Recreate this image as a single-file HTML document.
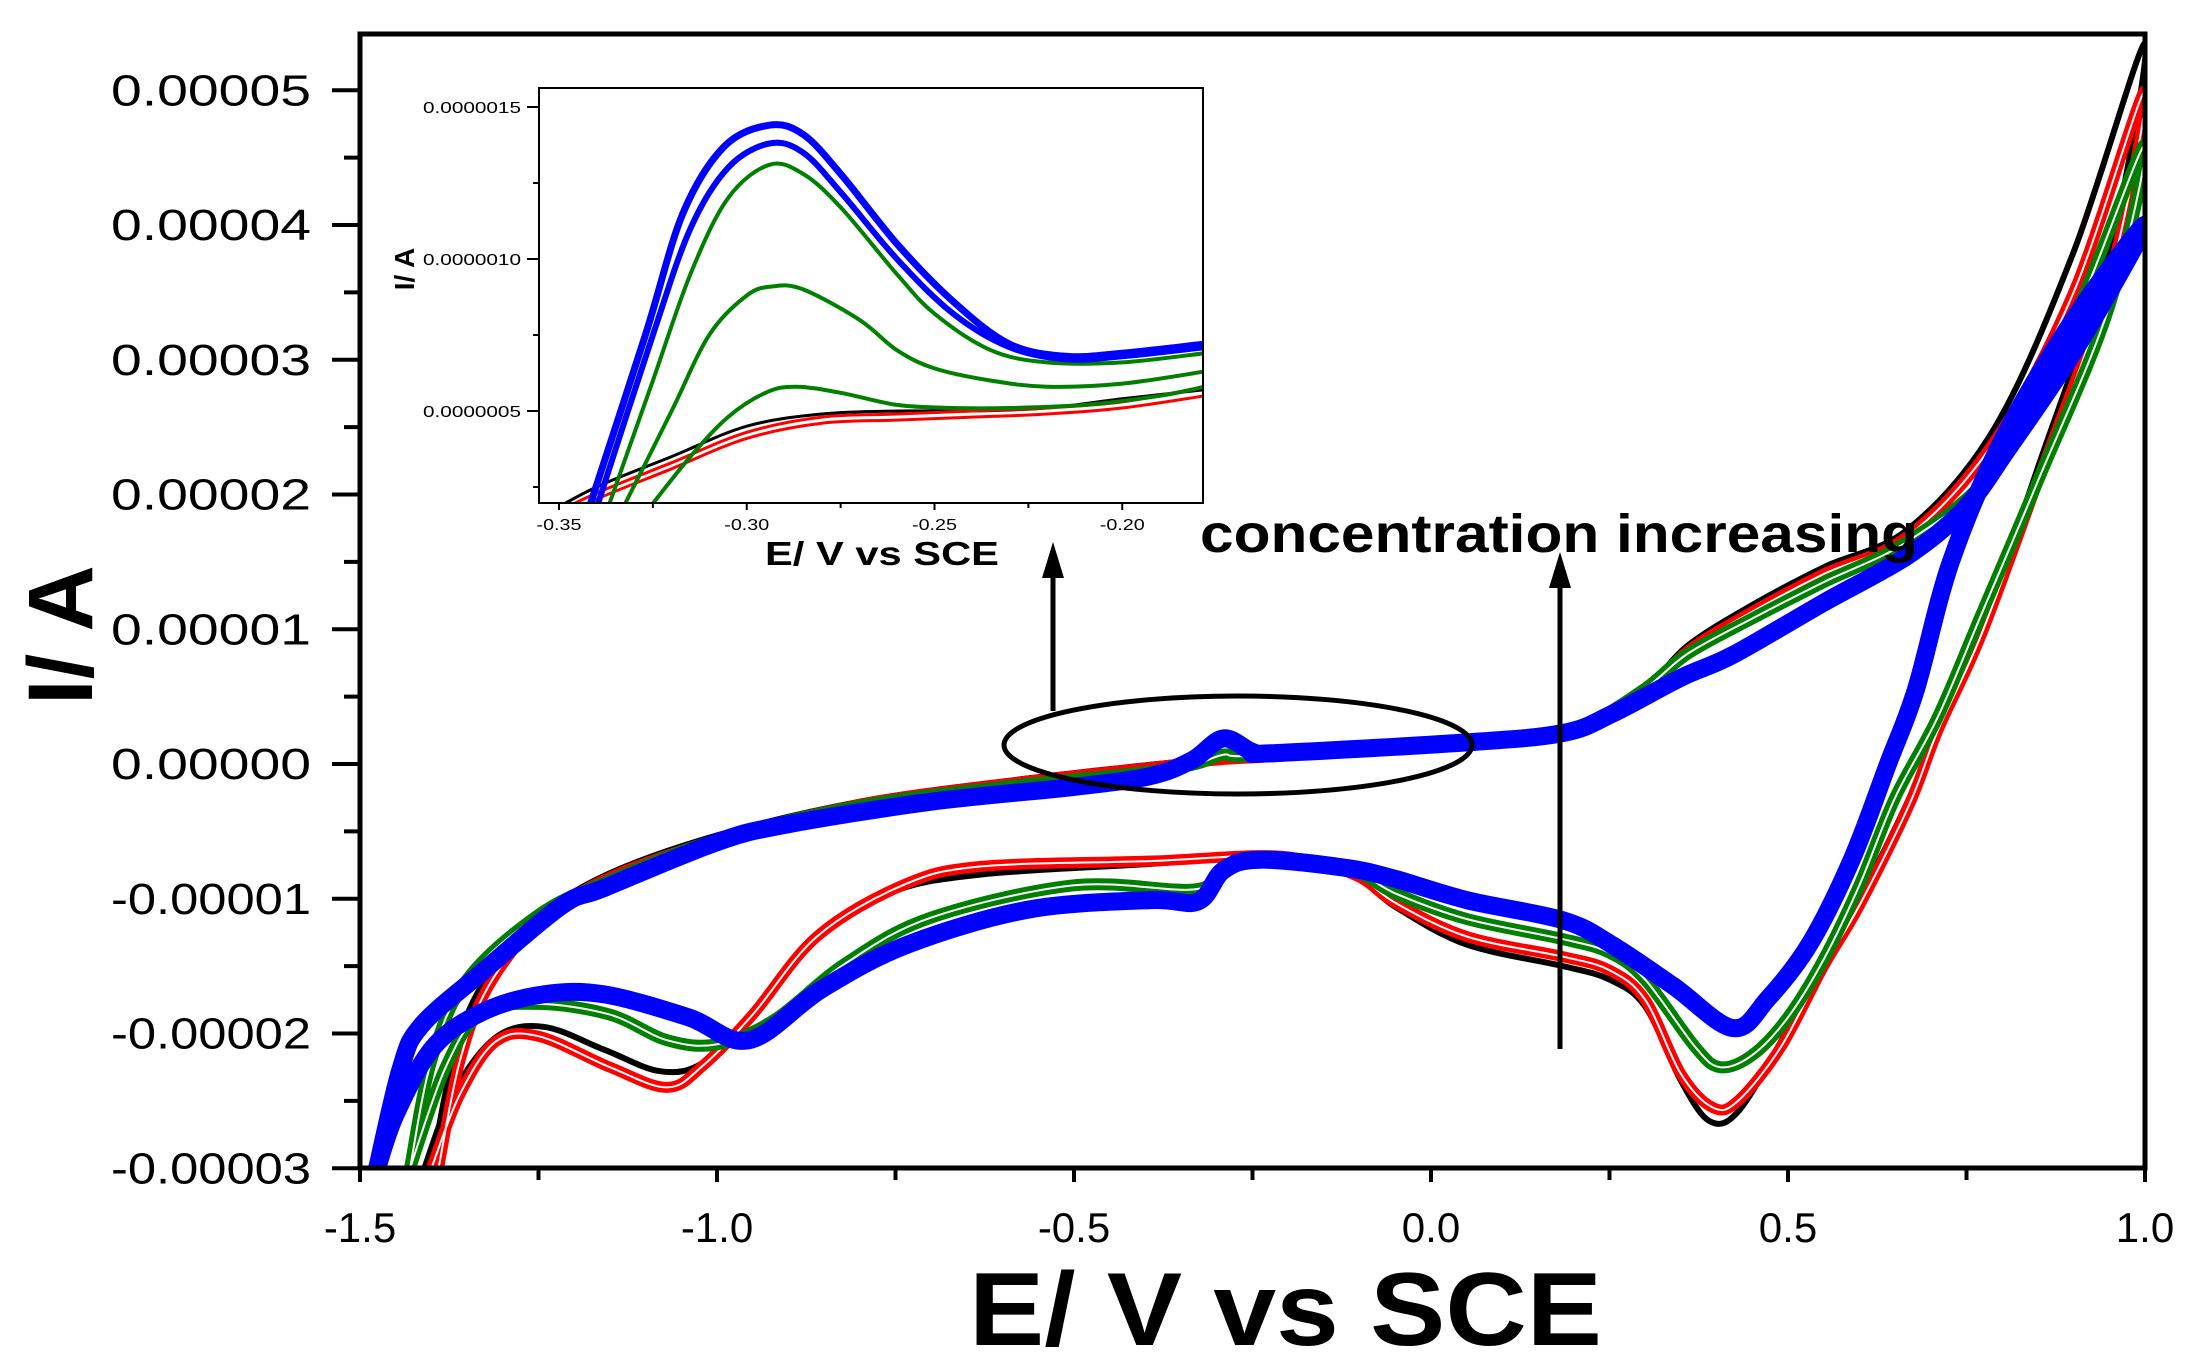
<!DOCTYPE html>
<html><head><meta charset="utf-8"><style>
html,body{margin:0;padding:0;background:#fff;}
svg{display:block;font-family:"Liberation Sans",Arial,sans-serif;}
</style></head><body>
<svg id="chart" width="2197" height="1364" viewBox="0 0 2197 1364" xmlns="http://www.w3.org/2000/svg">
<defs>
<clipPath id="mainClip"><rect x="360" y="34" width="1785" height="1134"/></clipPath>
<clipPath id="insetClip"><rect x="539" y="88" width="664" height="415"/></clipPath>
</defs>
<g id="mainSeries" clip-path="url(#mainClip)"></g>
<rect x="360" y="34" width="1785" height="1134" fill="none" stroke="#000" stroke-width="5"/>
<g id="mainAxes"></g>
<text x="969" y="1345" font-size="104" font-weight="bold" textLength="633" lengthAdjust="spacingAndGlyphs">E/ V vs SCE</text>
<text transform="translate(92,635) rotate(-90)" text-anchor="middle" font-size="92" font-weight="bold">I/ A</text>
<ellipse cx="1238" cy="745" rx="234" ry="49" fill="none" stroke="#000" stroke-width="5"/>
<g>
<line x1="1053" y1="711" x2="1053" y2="575" stroke="#000" stroke-width="5"/>
<polygon points="1053,542 1042,578 1064,578" fill="#000"/>
</g>
<g>
<line x1="1560" y1="1049" x2="1560" y2="585" stroke="#000" stroke-width="5"/>
<polygon points="1560,552 1549,588 1571,588" fill="#000"/>
</g>
<text x="1200" y="552" font-size="54" font-weight="bold" textLength="718" lengthAdjust="spacingAndGlyphs">concentration increasing</text>
<rect x="539" y="88" width="664" height="415" fill="#fff" stroke="none"/>
<g id="insetSeries" clip-path="url(#insetClip)"></g>
<rect x="539" y="88" width="664" height="415" fill="none" stroke="#000" stroke-width="2"/>
<g id="insetAxes"></g>
<text x="765" y="565" font-size="33" font-weight="bold" textLength="234" lengthAdjust="spacingAndGlyphs">E/ V vs SCE</text>
<text transform="translate(414,269) rotate(-90)" text-anchor="middle" font-size="28" font-weight="bold">I/ A</text>
</svg>
<script>
// ---- main chart data (E in V, I in microamps) ----
const xTicks = [-1.5, -1.0, -0.5, 0.0, 0.5, 1.0];
const xTickLabels = ["-1.5", "-1.0", "-0.5", "0.0", "0.5", "1.0"];
const yTicks = [50, 40, 30, 20, 10, 0, -10, -20, -30];
const yTickLabels = ["0.00005", "0.00004", "0.00003", "0.00002", "0.00001", "0.00000", "-0.00001", "-0.00002", "-0.00003"];

const blackE = [-1.40,-1.37,-1.33,-1.25,-1.158,-1.0,-0.8,-0.6,-0.4,-0.3,-0.2,0.0,0.15,0.22,0.3,0.36,0.45,0.55,0.67,0.79,0.9,1.0,0.95,0.85,0.77,0.71,0.67,0.6,0.55,0.49,0.43,0.39,0.35,0.3,0.25,0.185,0.05,-0.05,-0.1,-0.17,-0.24,-0.39,-0.63,-0.76,-0.87,-0.955,-1.02,-1.08,-1.158,-1.243,-1.31,-1.37,-1.41];
const blackI = [-30,-22,-16.5,-11.5,-8.3,-5.3,-2.8,-1.3,-0.1,0.4,0.6,1.3,1.9,2.6,5.5,8.8,11.8,14.6,17.5,25,38,53.5,38,22,10,3,-2.5,-10,-14.5,-20.6,-25.8,-26.5,-23.5,-18,-16,-15,-13.4,-10.6,-8.5,-7.2,-6.8,-7.4,-8.2,-9.6,-13.4,-18.8,-22.2,-22.8,-21.2,-19.5,-20.3,-24.5,-30];

const redE = [-1.39,-1.36,-1.32,-1.25,-1.158,-1.0,-0.8,-0.6,-0.4,-0.3,-0.2,0.0,0.15,0.22,0.3,0.36,0.45,0.55,0.67,0.79,0.9,1.0,0.95,0.85,0.77,0.71,0.67,0.6,0.55,0.49,0.43,0.395,0.35,0.3,0.25,0.185,0.05,-0.05,-0.1,-0.17,-0.24,-0.39,-0.63,-0.74,-0.86,-0.95,-1.02,-1.07,-1.15,-1.25,-1.31,-1.36,-1.40];
const redI = [-30,-22,-16.5,-11.8,-8.6,-5.6,-3.0,-1.5,-0.3,0.3,0.6,1.3,1.9,2.6,5.2,8.4,11.3,14.1,17,24,35,50,36,21,9.5,2.5,-3,-10.5,-15,-21,-25,-25.5,-23,-17.5,-15.3,-14.3,-12.8,-10.3,-8.4,-7.2,-6.8,-7.2,-7.6,-9.0,-12.8,-18.6,-22.4,-24,-22.5,-20.2,-20.6,-24.5,-30];

const greenE = [-1.43,-1.40,-1.35,-1.25,-1.158,-1.0,-0.8,-0.6,-0.4,-0.33,-0.29,-0.25,0.0,0.15,0.22,0.3,0.36,0.45,0.55,0.67,0.79,0.9,1.0,0.95,0.85,0.77,0.71,0.65,0.6,0.55,0.5,0.45,0.405,0.37,0.3,0.25,0.185,0.05,-0.05,-0.1,-0.17,-0.24,-0.29,-0.33,-0.5,-0.7,-0.82,-0.92,-1.0,-1.07,-1.15,-1.25,-1.33,-1.38,-1.43];
const greenI = [-30,-22,-16,-11.2,-8.8,-5.6,-3.1,-1.7,-0.6,0.0,0.7,0.6,1.4,2.0,3.0,5.6,8.2,10.8,13.5,16.6,22,33,46,34,21,11,3.5,-2.5,-9,-14.5,-18.8,-21.6,-22.5,-21,-16,-14,-13,-11.5,-9.6,-8.1,-7.2,-6.9,-7.6,-9.3,-9.0,-11.4,-14.8,-19,-20.8,-20.5,-18.6,-17.8,-18.5,-22.5,-30];

const blueE = [-1.476,-1.443,-1.414,-1.328,-1.217,-1.158,-1.0,-0.903,-0.7,-0.5,-0.393,-0.334,-0.291,-0.25,-0.222,0.05,0.185,0.253,0.35,0.423,0.551,0.669,0.748,0.807,0.905,1.0,0.9,0.8,0.728,0.679,0.64,0.59,0.531,0.472,0.423,0.34,0.253,0.185,0.05,-0.052,-0.12,-0.24,-0.291,-0.326,-0.393,-0.563,-0.733,-0.853,-0.955,-1.04,-1.158,-1.243,-1.328,-1.397,-1.45,-1.476];
const blueI = [-30,-22.6,-19.4,-15.4,-10.5,-9.2,-5.8,-4.5,-2.8,-1.7,-0.9,0.3,1.9,0.9,0.8,1.6,2.3,3.7,6.4,8.1,12,15.5,19,23.3,31,40,33,24,15,5.5,0,-7,-13.3,-17.4,-19.6,-16.5,-13.4,-11.6,-10.1,-8.5,-7.7,-7.1,-7.9,-10.2,-10.1,-10.8,-13.4,-16.7,-20.5,-18.8,-17.1,-17.1,-18.4,-21,-26,-30];

// ---- inset data (E in V, I in microamps) ----
const insetXTicks = [-0.35, -0.30, -0.25, -0.20];
const insetXTickLabels = ["-0.35", "-0.30", "-0.25", "-0.20"];
const insetYTicks = [1.5, 1.0, 0.5];
const insetYTickLabels = ["0.0000015", "0.0000010", "0.0000005"];
const inBlackE = [-0.355,-0.34,-0.32,-0.30,-0.28,-0.26,-0.24,-0.22,-0.20,-0.178];
const inBlackI = [0.15,0.25,0.35,0.45,0.49,0.50,0.50,0.51,0.54,0.57];
const inRed1I = [0.14,0.23,0.33,0.43,0.48,0.49,0.50,0.51,0.53,0.58];
const inRed2I = [0.12,0.21,0.31,0.41,0.46,0.47,0.48,0.49,0.51,0.55];
const inGreen3E = [-0.326,-0.315,-0.305,-0.295,-0.287,-0.275,-0.26,-0.245,-0.23,-0.21,-0.19,-0.178];
const inGreen3I = [0.18,0.35,0.48,0.56,0.58,0.56,0.52,0.51,0.51,0.52,0.55,0.58];
const inGreen2E = [-0.333,-0.32,-0.31,-0.30,-0.293,-0.285,-0.27,-0.26,-0.25,-0.235,-0.22,-0.20,-0.178];
const inGreen2I = [0.18,0.5,0.75,0.88,0.91,0.90,0.80,0.70,0.64,0.60,0.58,0.59,0.63];
const inGreen1E = [-0.337,-0.325,-0.315,-0.305,-0.294,-0.285,-0.275,-0.26,-0.25,-0.235,-0.22,-0.20,-0.178];
const inGreen1I = [0.18,0.6,0.95,1.2,1.31,1.28,1.17,0.95,0.82,0.70,0.66,0.66,0.69];
const inBlue2E = [-0.34,-0.325,-0.315,-0.305,-0.294,-0.285,-0.275,-0.26,-0.245,-0.23,-0.215,-0.20,-0.178];
const inBlue2I = [0.18,0.75,1.1,1.3,1.38,1.35,1.22,1.0,0.82,0.71,0.67,0.68,0.71];
const inBlue1E = [-0.342,-0.327,-0.317,-0.306,-0.294,-0.285,-0.275,-0.26,-0.245,-0.23,-0.215,-0.20,-0.178];
const inBlue1I = [0.18,0.75,1.15,1.37,1.44,1.41,1.28,1.05,0.86,0.72,0.68,0.69,0.72];

const NS = "http://www.w3.org/2000/svg";
function xMain(e){ return 360 + (e + 1.5) * 714; }
function yMain(i){ return 764 - i * 13.475; }
function xIn(e){ return 559 + (e + 0.35) * 3755; }
function yIn(i){ return 411 - (i - 0.5) * 304; }

function smoothPath(xs, ys){
  let d = "M" + xs[0].toFixed(1) + "," + ys[0].toFixed(1);
  for (let k = 0; k < xs.length - 1; k++){
    const p0x = xs[Math.max(k-1,0)], p0y = ys[Math.max(k-1,0)];
    const p1x = xs[k], p1y = ys[k], p2x = xs[k+1], p2y = ys[k+1];
    const p3x = xs[Math.min(k+2,xs.length-1)], p3y = ys[Math.min(k+2,xs.length-1)];
    const c1x = p1x + (p2x - p0x)/6, c1y = p1y + (p2y - p0y)/6;
    const c2x = p2x - (p3x - p1x)/6, c2y = p2y - (p3y - p1y)/6;
    d += " C" + c1x.toFixed(1)+","+c1y.toFixed(1)+" "+c2x.toFixed(1)+","+c2y.toFixed(1)+" "+p2x.toFixed(1)+","+p2y.toFixed(1);
  }
  return d;
}
function addCurve(parent, E, I, xf, yf, color, w, name){
  const p = document.createElementNS(NS, "path");
  p.setAttribute("d", smoothPath(E.map(xf), I.map(yf)));
  p.setAttribute("fill", "none");
  p.setAttribute("stroke", color);
  p.setAttribute("stroke-width", w);
  p.setAttribute("stroke-linejoin", "round");
  
  
  parent.appendChild(p);
}
function addLine(parent, x1, y1, x2, y2, w, name){
  const l = document.createElementNS(NS, "line");
  l.setAttribute("x1", x1); l.setAttribute("y1", y1);
  l.setAttribute("x2", x2); l.setAttribute("y2", y2);
  l.setAttribute("stroke", "#000"); l.setAttribute("stroke-width", w);
  
  
  parent.appendChild(l);
}
function addText(parent, x, y, txt, size, anchor, len, name){
  const t = document.createElementNS(NS, "text");
  t.setAttribute("x", x); t.setAttribute("y", y);
  t.setAttribute("font-size", size);
  t.setAttribute("text-anchor", anchor);
  if (len) { t.setAttribute("textLength", len); t.setAttribute("lengthAdjust", "spacingAndGlyphs"); }
  t.textContent = txt;
  
  
  parent.appendChild(t);
}

// main series
const ms = document.getElementById("mainSeries");
addCurve(ms, blackE, blackI, xMain, yMain, "#000", 6, "series-black");
addCurve(ms, redE, redI, xMain, yMain, "#ff0000", 11, "series-red");
addCurve(ms, redE, redI, xMain, yMain, "#ffffff", 2, "series-red-gap");
addCurve(ms, greenE, greenI, xMain, yMain, "#007f00", 12, "series-green");
addCurve(ms, greenE, greenI, xMain, yMain, "#ffffff", 2, "series-green-gap");
addCurve(ms, blueE, blueI, xMain, yMain, "#0000ff", 18, "series-blue");

// main axes
const ma = document.getElementById("mainAxes");
xTicks.forEach((v, k) => {
  addLine(ma, xMain(v), 1168, xMain(v), 1182, 4, "x-major-tick");
  addText(ma, xMain(v), 1242, xTickLabels[k], 42, "middle", 0, "x-tick-label");
  if (k < xTicks.length - 1) addLine(ma, xMain(v + 0.25), 1168, xMain(v + 0.25), 1180, 4, "x-minor-tick");
});
yTicks.forEach((v, k) => {
  addLine(ma, 332, yMain(v), 360, yMain(v), 4, "y-major-tick");
  addText(ma, 311, yMain(v) + 15, yTickLabels[k], 44, "end", 200, "y-tick-label");
  if (k < yTicks.length - 1) addLine(ma, 344, yMain(v - 5), 360, yMain(v - 5), 4, "y-minor-tick");
});

// inset series
const is = document.getElementById("insetSeries");
addCurve(is, inBlackE, inBlackI, xIn, yIn, "#000", 3, "inset-series-black");
addCurve(is, inBlackE, inRed1I, xIn, yIn, "#ff0000", 3, "inset-series-red-1");
addCurve(is, inBlackE, inRed2I, xIn, yIn, "#ff0000", 3, "inset-series-red-2");
addCurve(is, inGreen3E, inGreen3I, xIn, yIn, "#007f00", 4, "inset-series-green-3");
addCurve(is, inGreen2E, inGreen2I, xIn, yIn, "#007f00", 4, "inset-series-green-2");
addCurve(is, inGreen1E, inGreen1I, xIn, yIn, "#007f00", 4, "inset-series-green-1");
addCurve(is, inBlue2E, inBlue2I, xIn, yIn, "#0000ff", 6, "inset-series-blue-2");
addCurve(is, inBlue1E, inBlue1I, xIn, yIn, "#0000ff", 7, "inset-series-blue-1");

// inset axes
const ia = document.getElementById("insetAxes");
insetXTicks.forEach((v, k) => {
  addLine(ia, xIn(v), 503, xIn(v), 510, 2, "inset-x-major-tick");
  addText(ia, xIn(v), 530, insetXTickLabels[k], 16, "middle", 45, "inset-x-tick-label");
  if (xIn(v + 0.025) < 1203) addLine(ia, xIn(v + 0.025), 503, xIn(v + 0.025), 508, 2, "inset-x-minor-tick");
});
insetYTicks.forEach((v, k) => {
  addLine(ia, 527, yIn(v), 539, yIn(v), 2, "inset-y-major-tick");
  addText(ia, 521, yIn(v) + 6, insetYTickLabels[k], 16, "end", 98, "inset-y-tick-label");
  addLine(ia, 533, yIn(v - 0.25), 539, yIn(v - 0.25), 2, "inset-y-minor-tick");
});
</script>
</body></html>
